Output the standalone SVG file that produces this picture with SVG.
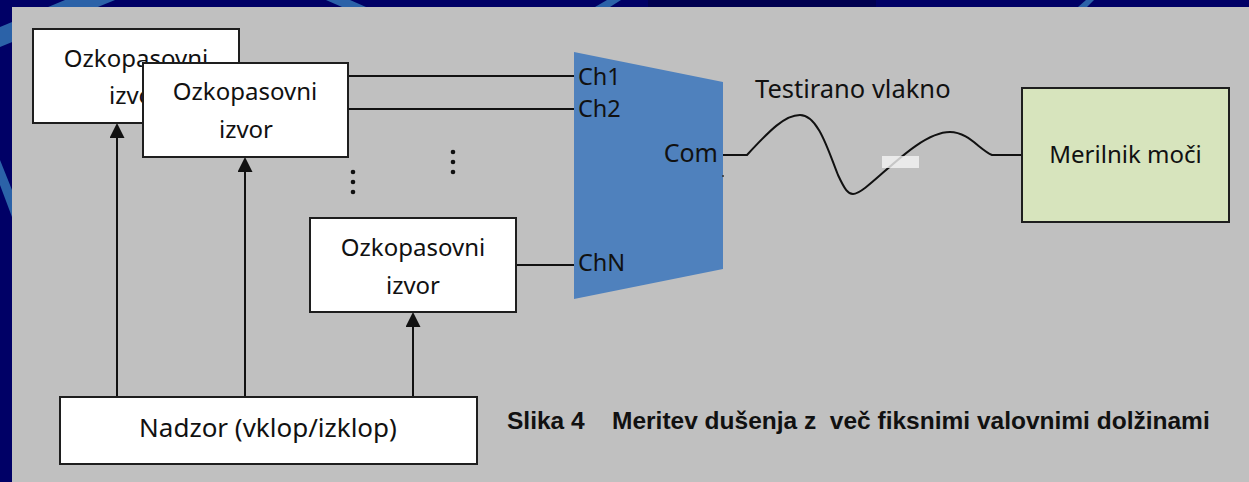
<svg xmlns="http://www.w3.org/2000/svg" width="1249" height="482" viewBox="0 0 1249 482">
  <defs>
    <style>
      .box { fill: #ffffff; stroke: #1e1e1e; stroke-width: 2; }
      .meter { fill: #d7e4bd; stroke: #1e1e1e; stroke-width: 2; }
      .lbl { font-family: "Noto Sans", "Open Sans", sans-serif; font-size: 24px; fill: #111111; }
      .port { font-size: 23.5px; }
      .wire { fill: none; stroke: #111111; stroke-width: 2; }
      .ctrl { fill: none; stroke: #111111; stroke-width: 2; marker-end: url(#arrow); }
      .stripe { fill: #2b62a8; }
      .dot { fill: #111111; }
      .cap { font-family: "Liberation Sans", Arial, sans-serif; font-weight: bold; font-size: 24.5px; fill: #111111; }
    </style>
    <marker id="arrow" markerUnits="userSpaceOnUse" viewBox="0 0 15 15" markerWidth="15" markerHeight="15" refX="1" refY="7.5" orient="auto">
      <path d="M0,0 L15,7.5 L0,15 Z" fill="#111111"/>
    </marker>
  </defs>

  <!-- slide background -->
  <rect x="0" y="0" width="1249" height="482" fill="#000066"/>
  <rect x="648" y="0" width="228" height="7" fill="#000050"/>
  <polygon class="stripe" points="0,27 65,0 115,0 0,47"/>
  <polygon class="stripe" points="326,0 350,0 366,7 342,7"/>
  <polygon class="stripe" points="607,0 621,0 610,7 595,7"/>
  <polygon class="stripe" points="1086,0 1094,0 1087,7 1078,7"/>
  <polygon class="stripe" points="0,160 0,185 12,217 12,190"/>
  <rect x="12" y="7" width="1237" height="475" fill="#c0c0c0"/>

  <!-- connectors -->
  <g id="connectors">
    <path class="wire" d="M348,76 H574"/>
    <path class="wire" d="M348,109 H574"/>
    <path class="wire" d="M516,265 H574"/>
    <path class="ctrl" d="M117,397 V137"/>
    <path class="ctrl" d="M245,397 V171"/>
    <path class="ctrl" d="M413,397 V326"/>
    <path class="wire" d="M723,155 H747 C770,130 785,115 800,115 C818,115 828,150 838,175 C845,190 848,194 853,194 C868,194 915,132 950,132 C968,132 980,150 992,155 H1022"/>
    <rect x="882" y="156" width="37" height="12" fill="#f4f4f4" opacity="0.8"/>
  </g>

  <!-- narrowband source 1 (behind) -->
  <g id="source1">
    <rect class="box" x="33" y="29" width="206" height="94"/>
    <text class="lbl" x="136" y="67" text-anchor="middle">Ozkopasovni</text>
    <text class="lbl" x="136" y="104" text-anchor="middle">izvor</text>
  </g>

  <!-- narrowband source 2 -->
  <g id="source2">
    <rect class="box" x="143" y="63" width="205" height="94"/>
    <text class="lbl" x="245" y="100" text-anchor="middle">Ozkopasovni</text>
    <text class="lbl" x="246" y="138" text-anchor="middle">izvor</text>
  </g>

  <!-- ellipsis dots -->
  <g id="ellipsis">
    <circle class="dot" cx="453" cy="152" r="2.3"/>
    <circle class="dot" cx="453" cy="162" r="2.3"/>
    <circle class="dot" cx="453" cy="172" r="2.3"/>
    <circle class="dot" cx="353" cy="172" r="2.3"/>
    <circle class="dot" cx="353" cy="182" r="2.3"/>
    <circle class="dot" cx="353" cy="192" r="2.3"/>
  </g>

  <!-- narrowband source N -->
  <g id="sourceN">
    <rect class="box" x="310" y="218" width="206" height="94"/>
    <text class="lbl" x="413" y="256" text-anchor="middle">Ozkopasovni</text>
    <text class="lbl" x="413" y="294" text-anchor="middle">izvor</text>
  </g>

  <!-- controller -->
  <g id="controller">
    <rect class="box" x="60" y="397" width="417" height="67"/>
    <text class="lbl" x="268" y="437" text-anchor="middle" style="font-size:26px">Nadzor (vklop/izklop)</text>
  </g>

  <!-- multiplexer -->
  <g id="mux">
    <polygon points="574,52 723,82 723,269 574,299" fill="#4f81bd"/>
    <text class="lbl port" x="578" y="85">Ch1</text>
    <text class="lbl port" x="578" y="117">Ch2</text>
    <text class="lbl port" x="578" y="271">ChN</text>
    <text class="lbl" x="718" y="162" text-anchor="end" style="font-size:25px">Com</text>
    <circle cx="723" cy="176" r="1" fill="#333333"/>
  </g>

  <!-- fiber label -->
  <g id="fiber-label">
    <text class="lbl" x="755" y="98" style="font-size:25.5px">Testirano vlakno</text>
  </g>

  <!-- power meter -->
  <g id="meter">
    <rect class="meter" x="1022" y="88" width="207" height="134"/>
    <text class="lbl" x="1125.5" y="163" text-anchor="middle">Merilnik moči</text>
  </g>

  <!-- caption -->
  <g id="caption">
    <text class="cap" x="507" y="429">Slika 4</text>
    <text class="cap" x="612" y="429" xml:space="preserve">Meritev dušenja z  več fiksnimi valovnimi dolžinami</text>
  </g>
</svg>
